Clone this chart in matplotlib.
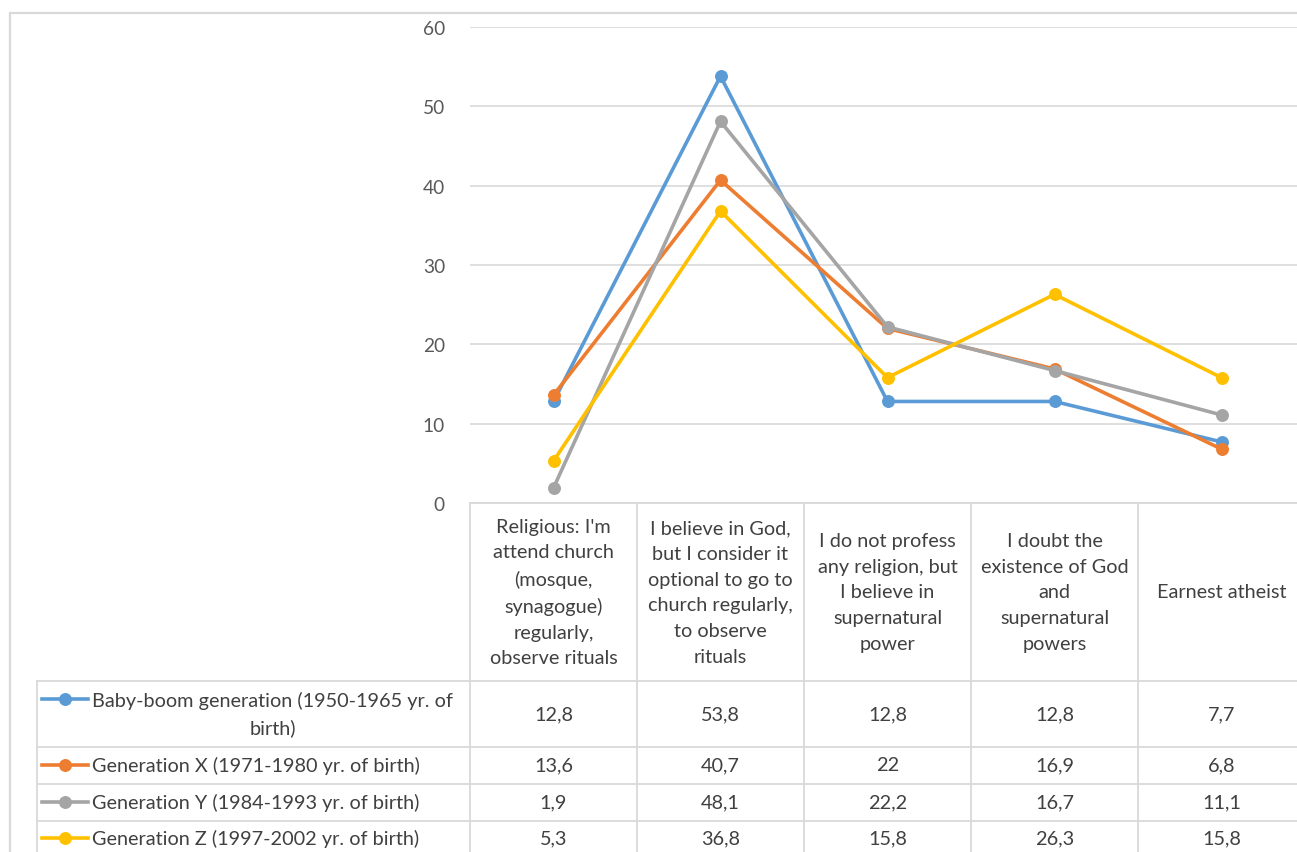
import matplotlib
matplotlib.use('Agg')
import matplotlib.pyplot as plt
import matplotlib.transforms as mtransforms
from matplotlib.lines import Line2D
from matplotlib.patches import Rectangle

plt.rcParams['font.family'] = ['Lato', 'DejaVu Sans']

# categorias del eje x (encabezados de la tabla)
categorias = [
    "Religious: I'm\nattend church\n(mosque,\nsynagogue)\nregularly,\nobserve rituals",
    "I believe in God,\nbut I consider it\noptional to go to\nchurch regularly,\nto observe\nrituals",
    "I do not profess\nany religion, but\nI believe in\nsupernatural\npower",
    "I doubt the\nexistence of God\nand\nsupernatural\npowers",
    "Earnest atheist",
]

generaciones = [
    "Baby-boom generation (1950-1965 yr. of\nbirth)",
    "Generation X (1971-1980 yr. of birth)",
    "Generation Y (1984-1993 yr. of birth)",
    "Generation Z (1997-2002 yr. of birth)",
]

baby_boom = [12.8, 53.8, 12.8, 12.8, 7.7]
gen_x = [13.6, 40.7, 22, 16.9, 6.8]
gen_y = [1.9, 48.1, 22.2, 16.7, 11.1]
gen_z = [5.3, 36.8, 15.8, 26.3, 15.8]
series = [baby_boom, gen_x, gen_y, gen_z]

colores = ['#5B9BD5', '#ED7D31', '#A5A5A5', '#FFC000']
y_ticks = [0, 10, 20, 30, 40, 50, 60]

W, H = 1297, 853
gris = '#d9d9d9'
texto = '#404040'
fs = 14.3


def fx(x):
    return x / W


def fy(y):
    return 1 - y / H


fig = plt.figure(figsize=(W / 100, H / 100), dpi=100)

# marco exterior del grafico
fig.add_artist(Rectangle((fx(10), fy(900)), fx(1400), fy(14) - fy(900),
                         transform=fig.transFigure, fill=False,
                         edgecolor=gris, linewidth=1.6))

ax = fig.add_axes([fx(470), fy(504), fx(835), fy(28) - fy(504)])
x = list(range(len(categorias)))
for valores, color in zip(series, colores):
    ax.plot(x, valores, color=color, linewidth=2.6, marker='o',
            markersize=8.3, clip_on=False, zorder=3)

ax.set_xlim(-0.5, len(categorias) - 0.5)
ax.set_ylim(0, 60)
ax.set_yticks(y_ticks)
ax.set_xticks([])
ax.grid(axis='y', color=gris, linewidth=1.2)
ax.set_axisbelow(True)
for s in ax.spines.values():
    s.set_visible(False)
ax.tick_params(axis='y', length=0, pad=18, labelsize=13.8, labelcolor='#595959')

# tabla de datos debajo del grafico
tr = mtransforms.blended_transform_factory(ax.transData, fig.transFigure)
filas_y = [682, 748, 785, 822]
centros_y = [715, 766, 803, 839]

for k in range(len(categorias)):
    fig.add_artist(Line2D([k - 0.5, k - 0.5], [fy(504), fy(900)], transform=tr,
                          color=gris, linewidth=1.3))
fig.add_artist(Line2D([fx(37), fx(37)], [fy(682), fy(900)],
                      transform=fig.transFigure, color=gris, linewidth=1.3))
fig.add_artist(Line2D([fx(470), fx(1400)], [fy(504), fy(504)],
                      transform=fig.transFigure, color=gris, linewidth=1.3))
for yy in filas_y:
    fig.add_artist(Line2D([fx(37), fx(1400)], [fy(yy), fy(yy)],
                          transform=fig.transFigure, color=gris, linewidth=1.3))

for i, cat in enumerate(categorias):
    fig.text(i, fy(593), cat, transform=tr, ha='center', va='center',
             multialignment='center', fontsize=fs, color=texto,
             linespacing=1.62)

for j, (nombre, valores, color) in enumerate(zip(generaciones, series, colores)):
    yc = centros_y[j]
    if j == 0:
        fig.text(fx(92), fy(yc), nombre, ha='left', va='center',
                 multialignment='center', fontsize=fs, color=texto,
                 linespacing=1.62)
        yk = 700
    else:
        fig.text(fx(92), fy(yc), nombre, ha='left', va='center',
                 fontsize=fs, color=texto)
        yk = yc
    fig.add_artist(Line2D([fx(42), fx(88)], [fy(yk), fy(yk)],
                          transform=fig.transFigure, color=color, linewidth=2.6))
    fig.add_artist(Line2D([fx(65)], [fy(yk)], transform=fig.transFigure,
                          color=color, marker='o', markersize=8.3))
    for i, v in enumerate(valores):
        fig.text(i, fy(yc), f'{v:g}'.replace('.', ','), transform=tr,
                 ha='center', va='center', fontsize=fs, color=texto)

fig.savefig('out.png', dpi=100)
